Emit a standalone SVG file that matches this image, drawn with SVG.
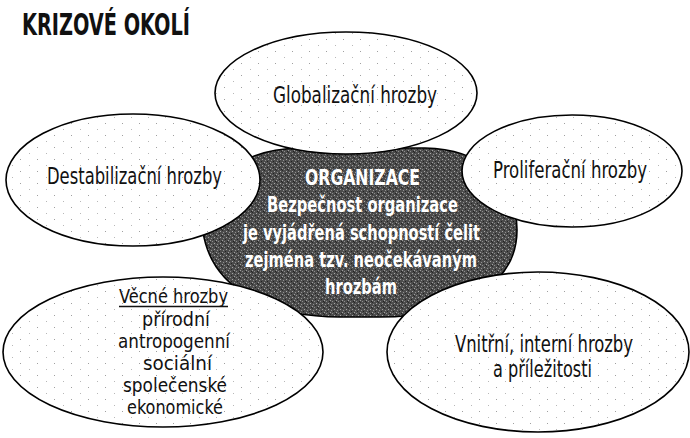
<svg xmlns="http://www.w3.org/2000/svg" width="690" height="438" viewBox="0 0 690 438">
<style>
.bg{fill:#ffffff}
.oval{fill:url(#dots);stroke:#000;stroke-width:1.6}
.core{fill:url(#tex);stroke:#000;stroke-width:1.6}
.t{font-family:"DejaVu Sans Condensed","Liberation Sans Narrow","Roboto Condensed","Liberation Sans",sans-serif;font-stretch:condensed;fill:#111;font-size:23px}
.s{font-size:20px}
.w{fill:#fff;font-size:21px;font-weight:bold}
.title{font-size:30px;font-weight:bold}
</style>
<defs>
<pattern id="dots" width="17" height="12" patternUnits="userSpaceOnUse">
<rect width="17" height="12" fill="#fff"/>
<rect x="3" y="3" width="1" height="1" fill="#a0a0a0"/>
<rect x="12" y="9" width="1" height="1" fill="#b8b8b8"/>
</pattern>
<pattern id="tex" width="6" height="6" patternUnits="userSpaceOnUse">
<rect width="6" height="6" fill="#4c4c4c"/>
<rect x="0" y="0" width="1" height="1" fill="#a0a0a0"/>
<rect x="2" y="1" width="1" height="1" fill="#8c8c8c"/>
<rect x="4" y="3" width="1" height="1" fill="#a8a8a8"/>
<rect x="1" y="4" width="1" height="1" fill="#909090"/>
<rect x="3" y="5" width="1" height="1" fill="#222"/>
<rect x="5" y="1" width="1" height="1" fill="#222"/>
<rect x="0" y="2" width="1" height="1" fill="#2a2a2a"/>
</pattern>
</defs>
<rect class="bg" width="690" height="438"/>
<g id="title">
<text class="t title" x="22" y="35" textLength="168" lengthAdjust="spacingAndGlyphs">KRIZOVÉ OKOLÍ</text>
</g>
<g id="connectors"></g>
<g id="node-organizace">
<path class="core" d="M203,232 C203,175 245,149 300,148 L425,148 C480,149 517,180 517,230 C517,285 460,317 380,317 L340,317 C270,317 212,290 203,232 Z"/>
<text class="t w" x="305" y="185" textLength="115" lengthAdjust="spacingAndGlyphs">ORGANIZACE</text>
<text class="t w" x="267" y="212" textLength="191" lengthAdjust="spacingAndGlyphs">Bezpečnost organizace</text>
<text class="t w" x="243" y="240" textLength="237" lengthAdjust="spacingAndGlyphs">je vyjádřená schopností čelit</text>
<text class="t w" x="245" y="267" textLength="232" lengthAdjust="spacingAndGlyphs">zejména tzv. neočekávaným</text>
<text class="t w" x="325" y="294" textLength="72" lengthAdjust="spacingAndGlyphs">hrozbám</text>
</g>
<g id="node-globalizacni">
<ellipse class="oval" cx="346" cy="93" rx="131" ry="61"/>
<text class="t" x="273" y="103" textLength="164" lengthAdjust="spacingAndGlyphs">Globalizační hrozby</text>
</g>
<g id="node-destabilizacni">
<ellipse class="oval" cx="133" cy="180" rx="127" ry="66"/>
<text class="t" x="47" y="184" textLength="175" lengthAdjust="spacingAndGlyphs">Destabilizační hrozby</text>
</g>
<g id="node-proliferacni">
<ellipse class="oval" cx="572" cy="171" rx="110" ry="56"/>
<text class="t" x="493" y="178" textLength="154" lengthAdjust="spacingAndGlyphs">Proliferační hrozby</text>
</g>
<g id="node-vecne">
<ellipse class="oval" cx="163" cy="352" rx="160" ry="75"/>
<text class="t s" x="119" y="303" textLength="109" lengthAdjust="spacingAndGlyphs">Věcné hrozby</text>
<line x1="119" y1="306.5" x2="228" y2="306.5" stroke="#111" stroke-width="1.3"/>
<text class="t s" x="142" y="326" textLength="68" lengthAdjust="spacingAndGlyphs">přírodní</text>
<text class="t s" x="118" y="348" textLength="112" lengthAdjust="spacingAndGlyphs">antropogenní</text>
<text class="t s" x="143" y="370" textLength="69" lengthAdjust="spacingAndGlyphs">sociální</text>
<text class="t s" x="123" y="392" textLength="104" lengthAdjust="spacingAndGlyphs">společenské</text>
<text class="t s" x="127" y="414" textLength="96" lengthAdjust="spacingAndGlyphs">ekonomické</text>
</g>
<g id="node-vnitrni">
<ellipse class="oval" cx="538" cy="352" rx="151" ry="80"/>
<text class="t" x="455" y="352" textLength="178" lengthAdjust="spacingAndGlyphs">Vnitřní, interní hrozby</text>
<text class="t" x="493" y="377" textLength="99" lengthAdjust="spacingAndGlyphs">a příležitosti</text>
</g>
</svg>
